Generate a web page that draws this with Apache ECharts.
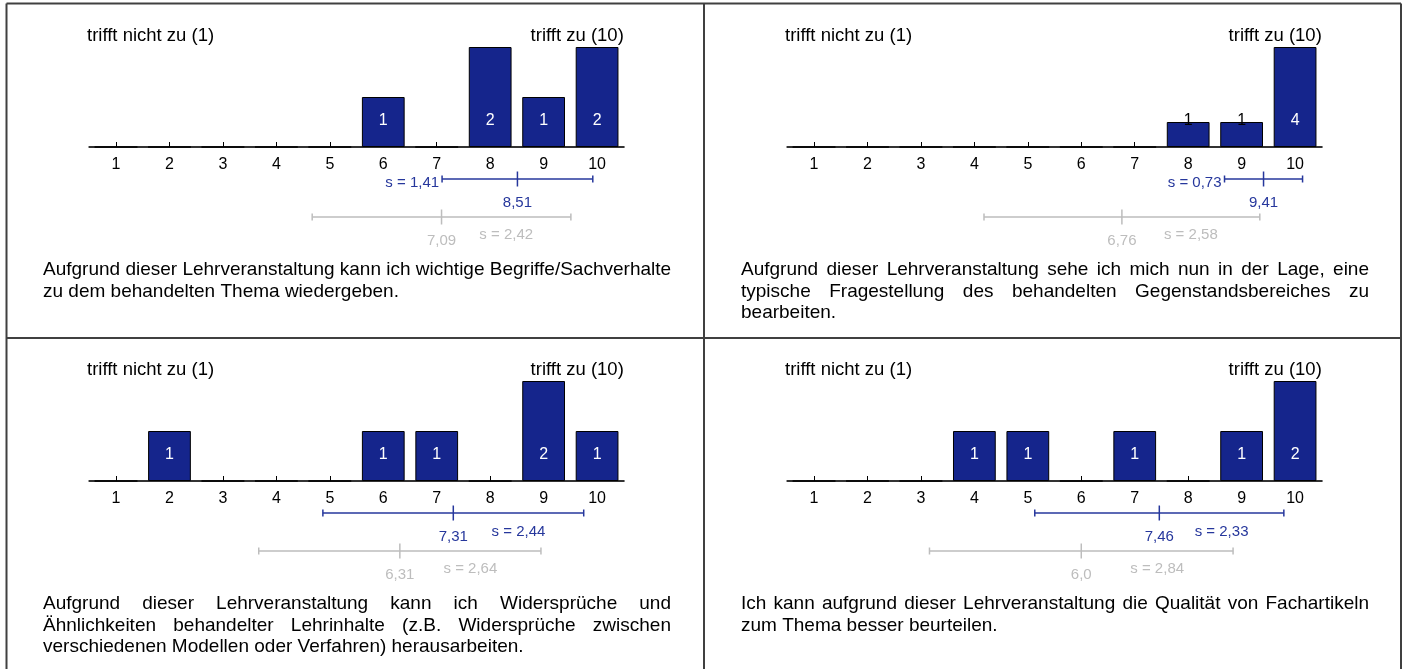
<!DOCTYPE html>
<html><head><meta charset="utf-8">
<script src="https://cdn.jsdelivr.net/npm/echarts@6/dist/echarts.min.js"></script>
<style>html,body{margin:0;padding:0;background:#fff}#c{width:1406px;height:669px}</style>
</head><body><div id="c"></div>
<script>
// ---------- data ----------
const categories = ['1','2','3','4','5','6','7','8','9','10'];
const counts1 = [0,0,0,0,0,1,0,2,1,2];
const counts2 = [0,0,0,0,0,0,0,1,1,4];
const counts3 = [0,1,0,0,0,1,1,0,2,1];
const counts4 = [0,0,0,1,1,0,1,0,1,2];
const means = [8.51, 9.41, 7.31, 7.46];
const sds = [1.41, 0.73, 2.44, 2.33];
const refMeans = [7.09, 6.76, 6.31, 6.0];
const refSds = [2.42, 2.58, 2.64, 2.84];
const leftLabel = 'trifft nicht zu (1)';
const rightLabel = 'trifft zu (10)';
const question1 = ['Aufgrund dieser Lehrveranstaltung kann ich wichtige Begriffe/Sachverhalte',
                   'zu dem behandelten Thema wiedergeben.'];
const question2 = ['Aufgrund dieser Lehrveranstaltung sehe ich mich nun in der Lage, eine',
                   'typische Fragestellung des behandelten Gegenstandsbereiches zu',
                   'bearbeiten.'];
const question3 = ['Aufgrund dieser Lehrveranstaltung kann ich Widersprüche und',
                   'Ähnlichkeiten behandelter Lehrinhalte (z.B. Widersprüche zwischen',
                   'verschiedenen Modellen oder Verfahren) herausarbeiten.'];
const question4 = ['Ich kann aufgrund dieser Lehrveranstaltung die Qualität von Fachartikeln',
                   'zum Thema besser beurteilen.'];

const countsAll = [counts1, counts2, counts3, counts4];
const questionsAll = [question1, question2, question3, question4];

// ---------- layout / style ----------
const FONT = '"Liberation Sans", Arial, sans-serif';
const BAR = '#15258c';
const BLUE = '#26379c';
const GREY = '#bdbdbd';
const origins = [[6,4],[704,4],[6,338],[704,338]];
const sdLabelMode = ['left','left','below','below'];
const GL = 83.3, GW = 534.5, GT = 43, GH = 100;
const DESC_SIZE = 19, HEAD_SIZE = 18.5, TICK_SIZE = 16, SMALL_SIZE = 15;

function fmt(v){ let s = v.toFixed(2); if (s.endsWith('0')) s = s.slice(0,-1); return s.replace('.', ','); }

const ctx = document.createElement('canvas').getContext('2d');
function measure(t, size){ ctx.font = size + 'px ' + FONT; return ctx.measureText(t).width; }

function textEl(t, x, y, size, color, align){
  return {type:'text', x:x, y:y, silent:true,
    style:{text:t, fontSize:size, fontFamily:FONT, fill:color,
      textAlign:align||'left', align:align||'left', textVerticalAlign:'middle', verticalAlign:'middle'}};
}

const grids = [], xAxes = [], yAxes = [], series = [], graphics = [];

// frame lines
const LC = '#404040';
function line(x1,y1,x2,y2){ graphics.push({type:'line', silent:true, shape:{x1,y1,x2,y2}, style:{stroke:LC, lineWidth:2}}); }
line(6.5,3.5,1401,3.5); line(6.5,3.5,6.5,672); line(1401,3.5,1401,672);
line(704,3.5,704,672); line(6.5,338,1401,338);

countsAll.forEach((counts, p) => {
  const [ox, oy] = origins[p];
  const max = Math.max(...counts);
  grids.push({left: ox + GL, top: oy + GT, width: GW, height: GH});
  xAxes.push({type:'category', gridIndex:p, data:categories, boundaryGap:true,
    axisLine:{show:true, lineStyle:{color:'#333', width:2}},
    axisTick:{show:true, inside:true, alignWithLabel:true, length:5, lineStyle:{color:'#000', width:1}},
    axisLabel:{color:'#000', fontSize:TICK_SIZE, fontFamily:FONT, margin:10},
    splitLine:{show:false}});
  xAxes.push({type:'value', gridIndex:p, min:0.5, max:10.5, show:false});
  yAxes.push({type:'value', gridIndex:p, min:0, max:max, show:false});

  series.push({type:'bar', xAxisIndex:2*p, yAxisIndex:p, barWidth:'80%', animation:false,
    itemStyle:{color:BAR, borderColor:'#000', borderWidth:1},
    data: counts.map(v => ({value:v, label:{show:v>0, color:(v/max > 0.35 ? '#fff' : '#000')}})),
    label:{position:'insideBottom', distance:18, fontSize:TICK_SIZE, fontFamily:FONT}});

  const stats = [[means[p], sds[p], 0], [refMeans[p], refSds[p], 1]];
  series.push({type:'custom', xAxisIndex:2*p+1, yAxisIndex:p, clip:false, animation:false, silent:true,
    data: stats,
    renderItem: function(params, api){
      const m = api.value(0), s = api.value(1), kind = api.value(2);
      const pm = api.coord([m, 0]), pa = api.coord([m - s, 0]), pb = api.coord([m + s, 0]);
      const base = pm[1];
      const col = kind === 0 ? BLUE : GREY;
      const ly = base + (kind === 0 ? 32 : 70);
      const ls = {stroke: col, lineWidth: 1.5};
      const ch = [
        {type:'line', shape:{x1:pa[0], y1:ly, x2:pb[0], y2:ly}, style:ls},
        {type:'line', shape:{x1:pa[0], y1:ly-3.5, x2:pa[0], y2:ly+3.5}, style:ls},
        {type:'line', shape:{x1:pb[0], y1:ly-3.5, x2:pb[0], y2:ly+3.5}, style:ls},
        {type:'line', shape:{x1:pm[0], y1:ly-7.5, x2:pm[0], y2:ly+7.5}, style:ls}
      ];
      const sTxt = 's = ' + fmt(s);
      if (kind === 0) {
        ch.push(textEl(fmt(m), pm[0], base + 55.5, SMALL_SIZE, col, 'center'));
        if (sdLabelMode[p] === 'left') ch.push(textEl(sTxt, pa[0] - 3, base + 35.5, SMALL_SIZE, col, 'right'));
        else ch.push(textEl(sTxt, (pm[0] + pb[0]) / 2, base + 51, SMALL_SIZE, col, 'center'));
      } else {
        ch.push(textEl(fmt(m), pm[0], base + 94, SMALL_SIZE, col, 'center'));
        ch.push(textEl(sTxt, (pm[0] + pb[0]) / 2, base + 87.5, SMALL_SIZE, col, 'center'));
      }
      return {type:'group', children: ch};
    }});

  // header labels
  graphics.push(textEl(leftLabel, ox + 81, oy + 32, HEAD_SIZE, '#000', 'left'));
  graphics.push(textEl(rightLabel, ox + GL + GW, oy + 32, HEAD_SIZE, '#000', 'right'));

  // question text, justified except last line
  const lines = questionsAll[p];
  const tx = ox + 37, tw = 628, ty0 = oy + GT + GH + 123, lh = 21.3;
  lines.forEach((ln, i) => {
    const y = ty0 + i * lh;
    const words = ln.split(' ');
    const natural = measure(ln, DESC_SIZE);
    if (i === lines.length - 1 || words.length < 2 || natural > tw) {
      graphics.push(textEl(ln, tx, y, DESC_SIZE, '#000', 'left'));
    } else {
      const ws = words.map(w => measure(w, DESC_SIZE));
      const total = ws.reduce((a,b)=>a+b, 0);
      const gap = (tw - total) / (words.length - 1);
      let x = tx;
      words.forEach((w, k) => { graphics.push(textEl(w, x, y, DESC_SIZE, '#000', 'left')); x += ws[k] + gap; });
    }
  });
});

const chart = echarts.init(document.getElementById('c'), null, {renderer:'canvas'});
chart.setOption({animation:false, grid:grids, xAxis:xAxes, yAxis:yAxes, series:series, graphic:{elements:graphics}});
</script></body></html>
